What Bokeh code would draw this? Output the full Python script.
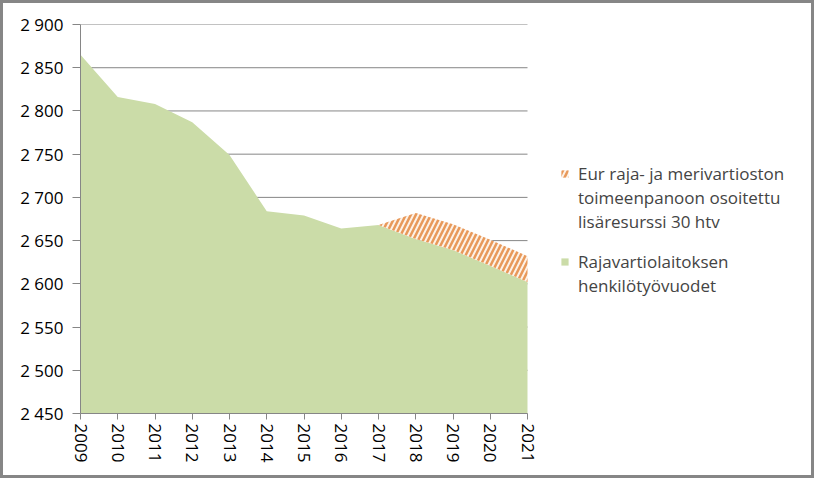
from bokeh.plotting import figure
from bokeh.models import ColumnDataSource, FixedTicker, Legend, LegendItem, Range1d
from bokeh.embed import file_html
from bokeh.resources import INLINE

years = [2009, 2010, 2011, 2012, 2013, 2014, 2015, 2016, 2017, 2018, 2019, 2020, 2021]
staff = [2865, 2816, 2808, 2787, 2749, 2684, 2679, 2664, 2668, 2652, 2639, 2621, 2602]
extra = [0, 0, 0, 0, 0, 0, 0, 0, 0, 30, 30, 30, 30]
y_ticks = [2450, 2500, 2550, 2600, 2650, 2700, 2750, 2800, 2850, 2900]
y_tick_labels = ["2 450", "2 500", "2 550", "2 600", "2 650", "2 700", "2 750", "2 800", "2 850", "2 900"]
name_extra = ["Eur raja- ja merivartioston", "toimeenpanoon osoitettu", "lisäresurssi 30 htv"]
name_staff = ["Rajavartiolaitoksen", "henkilötyövuodet"]

base = [y_ticks[0]] * len(years)
top = [s + e for s, e in zip(staff, extra)]
src = ColumnDataSource(dict(x=years, base=base, staff=staff, top=top))
start = years.index(2017)
src2 = ColumnDataSource(dict(x=years[start:], staff=staff[start:], top=top[start:]))

FONT = "Open Sans"
W, H = 814, 478            # canvas; a 3px CSS border is added around it
LEFT, RIGHT, TOP, BOTTOM = 77, 3, 21, 68
PLOT_W = 447               # width of the data area (2009..2021)
frame_w = W - LEFT - RIGHT
span = years[-1] - years[0]
x_end = years[0] + span * frame_w / PLOT_W

p = figure(width=W, height=H, output_backend="svg", toolbar_location=None,
           x_range=Range1d(years[0], x_end), y_range=Range1d(y_ticks[0], y_ticks[-1]),
           min_border_left=LEFT, min_border_right=RIGHT, min_border_top=TOP, min_border_bottom=BOTTOM)
p.background_fill_color = "white"
p.border_fill_color = "white"
p.outline_line_color = None
p.xgrid.visible = False
p.ygrid.visible = False

# horizontal gridlines only across the data area
p.segment(x0=[years[0]] * len(y_ticks), x1=[years[-1]] * len(y_ticks), y0=y_ticks, y1=y_ticks,
          line_color="#868686", line_width=1, level="underlay")

g = p.varea(x="x", y1="base", y2="staff", source=src, fill_color="#cbdca8")
o = p.varea(x="x", y1="staff", y2="top", source=src2, fill_color="#fdf1e6",
            hatch_pattern="/", hatch_color="#e8995a", hatch_weight=2.5, hatch_scale=10)
dummy = p.varea(x=[], y1=[], y2=[], fill_alpha=0)

# x axis line across the data area
p.segment(x0=[years[0]], x1=[years[-1]], y0=[y_ticks[0]], y1=[y_ticks[0]],
          line_color="#868686", line_width=1, level="guide")

p.yaxis.ticker = FixedTicker(ticks=y_ticks)
p.yaxis.major_label_overrides = {t: l for t, l in zip(y_ticks, y_tick_labels)}
p.xaxis.ticker = FixedTicker(ticks=years)
p.xaxis.major_label_orientation = "vertical"

for ax in (p.xaxis[0], p.yaxis[0]):
    ax.axis_line_color = "#868686"
    ax.major_tick_line_color = "#868686"
    ax.minor_tick_line_color = None
    ax.major_tick_in = 0
    ax.major_label_text_font = FONT
    ax.major_label_text_font_size = "17px"
    ax.major_label_text_color = "black"
p.xaxis.axis_line_color = None
p.yaxis.major_tick_out = 8
p.yaxis.major_label_standoff = 9
p.xaxis.major_tick_out = 6
p.xaxis.major_label_standoff = 4


def make_legend(lines, rend, loc):
    items = [LegendItem(label=lines[0], renderers=[rend])]
    items += [LegendItem(label=t, renderers=[dummy]) for t in lines[1:]]
    return Legend(items=items, location=loc, padding=0, margin=0, spacing=0,
                  glyph_width=9, glyph_height=9, label_standoff=9, label_height=24,
                  label_text_font=FONT, label_text_font_size="17px",
                  border_line_color=None, background_fill_alpha=0)


p.add_layout(make_legend(name_extra, o, (480, 180)), "center")
p.add_layout(make_legend(name_staff, g, (480, 116)), "center")

p.styles = {"border": "3px solid #868686"}

open("out.html", "w").write(file_html(p, INLINE))
